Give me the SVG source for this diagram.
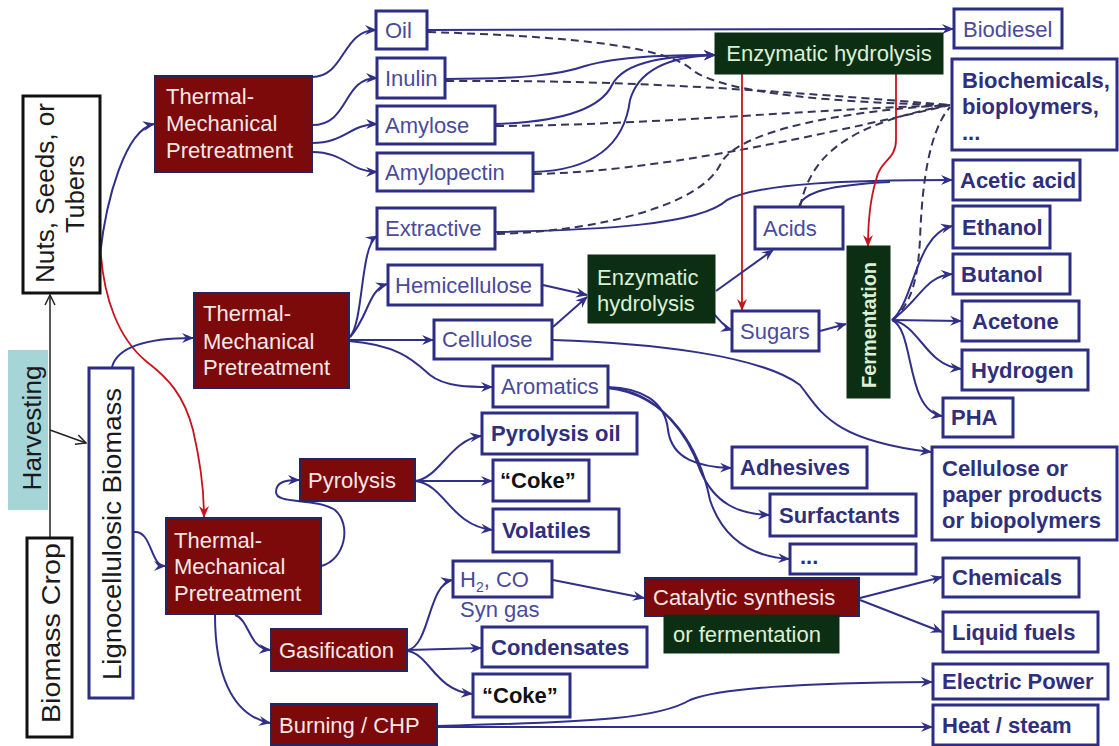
<svg xmlns="http://www.w3.org/2000/svg" width="1119" height="746" viewBox="0 0 1119 746">
  <defs>
    <marker id="ab" viewBox="0 0 12 12" refX="11" refY="6" markerWidth="12" markerHeight="12" markerUnits="userSpaceOnUse" orient="auto">
      <path d="M0,1 L12,6 L0,11 L4,6 z" fill="#30308a"/>
    </marker>
    <marker id="ar" viewBox="0 0 12 12" refX="11" refY="6" markerWidth="12" markerHeight="12" markerUnits="userSpaceOnUse" orient="auto">
      <path d="M0,1 L12,6 L0,11 L4,6 z" fill="#c8141e"/>
    </marker>
    <marker id="ak" viewBox="0 0 12 12" refX="11" refY="6" markerWidth="12" markerHeight="12" markerUnits="userSpaceOnUse" orient="auto">
      <path d="M1,1 L11,6 L1,11" fill="none" stroke="#222" stroke-width="1.5"/>
    </marker>
    <style>
      text { font-family: "Liberation Sans", Arial, sans-serif; }
      .ob { fill: #ffffff; stroke: #2d2d85; stroke-width: 3; }
      .kb { fill: #ffffff; stroke: #111111; stroke-width: 3; }
      .rbx { fill: #7c0a0a; stroke: #26265e; stroke-width: 2; }
      .gbx { fill: #0c2f14; stroke: #0c2f14; stroke-width: 1; }
      .rb { font-size: 22px; fill: #4a4a9c; }
      .bb { font-size: 22px; font-weight: bold; fill: #2f2f7c; }
      .bk { font-size: 22px; font-weight: bold; fill: #111111; }
      .wt { font-size: 22px; fill: #f6e6e6; }
      .gt { font-size: 22px; fill: #dcefd4; }
      .vt { font-size: 25px; fill: #1a1a1a; }
      .c { fill: none; stroke: #30308a; stroke-width: 2; marker-end: url(#ab); }
      .cn { fill: none; stroke: #30308a; stroke-width: 2; }
      .d { fill: none; stroke: #35355c; stroke-width: 2; stroke-dasharray: 8 5; }
      .r { fill: none; stroke: #c8141e; stroke-width: 1.8; marker-end: url(#ar); }
      .k { fill: none; stroke: #222222; stroke-width: 1.5; marker-end: url(#ak); }
    </style>
  </defs>

  <rect width="1119" height="746" fill="#ffffff"/>

  <!-- connectors -->
  <g id="connectors">
    <!-- harvesting -->
    <path class="k" d="M50,538 L50,295"/>
    <path class="k" d="M50,430 L86,443"/>

    <!-- feedstocks to pretreatment -->
    <path class="c" d="M100,255 C106,200 125,130 154,124"/>
    <path class="r" d="M100,240 C102,300 120,340 147,362 C168,378 184,395 193,430 C200,460 204,490 204,517"/>
    <path class="c" d="M112,367 C118,345 150,338 193,338"/>
    <path class="c" d="M134,532 C152,530 150,566 165,566"/>

    <!-- pretreatment 1 fractions -->
    <path class="c" d="M312,77 C345,77 342,30 376,30"/>
    <path class="c" d="M312,125 C350,125 342,78 377,78"/>
    <path class="c" d="M312,143 C345,143 350,124 377,124"/>
    <path class="c" d="M312,152 C345,152 350,172 377,172"/>

    <!-- pretreatment 2 fractions -->
    <path class="c" d="M350,337 C364,320 360,246 377,236"/>
    <path class="c" d="M350,337 C368,318 368,290 387,284"/>
    <path class="c" d="M349,340 L433,340"/>
    <path class="c" d="M349,341 C400,345 415,362 430,375 C445,387 470,387 492,387"/>

    <!-- oil / starch routes -->
    <path class="c" d="M427,30 L953,29"/>
    <path class="d" d="M428,32 C560,36 660,45 690,68 C720,95 850,103 950,105"/>
    <path class="c" d="M445,79 C520,79 560,75 585,66 C620,56 670,55 715,55"/>
    <path class="d" d="M446,81 C600,80 720,86 950,105"/>
    <path class="c" d="M495,124 C560,122 600,110 612,85 C625,60 670,56 715,55"/>
    <path class="d" d="M496,126 C650,125 800,110 950,105"/>
    <path class="c" d="M533,172 C600,170 625,140 630,100 C640,65 680,56 715,55"/>
    <path class="d" d="M534,174 C650,172 800,140 950,105"/>

    <!-- extractive -->
    <path class="c" d="M495,232 C600,230 700,225 727,200 C760,183 850,180 952,180"/>
    <path class="d" d="M497,234 C600,231 700,205 720,165 C735,130 850,110 950,105"/>
    <path class="cn" d="M799,207 C802,192 830,185 890,182"/>
    <path class="d" d="M800,207 C810,160 840,125 950,105"/>
    <path class="d" d="M893,320 C915,300 918,270 920,240 C922,180 930,130 950,107"/>

    <!-- enzymatic hydrolysis (starch) -->
    <path class="r" d="M742,74 L742,310"/>
    <path class="r" d="M896,74 L896,140 C896,160 880,160 876,180 C870,200 868,220 868,246"/>

    <!-- lignocellulose sugars -->
    <path class="c" d="M543,285 L587,295"/>
    <path class="c" d="M553,327 L587,297"/>
    <path class="c" d="M716,291 L773,250"/>
    <path class="c" d="M712,312 C720,320 725,328 732,330"/>
    <path class="c" d="M820,331 L846,324"/>
    <path class="c" d="M553,340 C650,343 760,355 800,385 C820,410 830,440 931,452"/>

    <!-- fermentation products -->
    <path class="c" d="M892,320 C915,300 915,235 952,226"/>
    <path class="c" d="M892,320 C920,300 925,276 952,274"/>
    <path class="c" d="M892,320 L961,321"/>
    <path class="c" d="M892,320 C920,325 925,365 961,369"/>
    <path class="c" d="M892,320 C915,330 905,410 942,416"/>

    <!-- aromatics -->
    <path class="c" d="M608,387 C640,388 665,400 668,430 C672,460 700,467 731,468"/>
    <path class="c" d="M608,388 C660,390 690,440 700,470 C715,505 740,514 769,515"/>
    <path class="c" d="M608,388 C670,395 700,450 710,500 C725,545 760,557 789,559"/>

    <!-- pretreatment 3 routes -->
    <path class="c" d="M321,566 C345,560 352,525 335,510 C315,497 276,505 276,492 C276,482 285,480 299,480"/>
    <path class="c" d="M415,481 C440,478 450,440 481,436"/>
    <path class="c" d="M415,481 L492,481"/>
    <path class="c" d="M415,481 C445,484 450,525 492,530"/>
    <path class="c" d="M235,615 C250,620 248,648 270,650"/>
    <path class="c" d="M215,615 C215,670 230,715 270,723"/>

    <!-- gasification -->
    <path class="c" d="M408,650 C430,645 428,585 452,580"/>
    <path class="c" d="M408,650 L481,648"/>
    <path class="c" d="M408,651 C430,655 435,690 472,694"/>
    <path class="c" d="M553,580 L644,598"/>
    <path class="c" d="M860,598 L942,577"/>
    <path class="c" d="M860,600 L942,632"/>

    <!-- burning / CHP -->
    <path class="c" d="M437,726 C600,722 660,718 690,700 C720,688 800,683 932,682"/>
    <path class="c" d="M437,727 L932,727"/>
  </g>

  <!-- left column -->
  <g id="nuts">
    <rect class="kb" x="23" y="96" width="77" height="197"/>
    <text class="vt" transform="translate(54,193) rotate(-90)" text-anchor="middle" textLength="180" lengthAdjust="spacingAndGlyphs">Nuts, Seeds, or</text>
    <text class="vt" transform="translate(84,194) rotate(-90)" text-anchor="middle" textLength="78" lengthAdjust="spacingAndGlyphs">Tubers</text>
  </g>
  <g id="harvesting">
    <rect x="8" y="350" width="40" height="160" fill="#a6d5d8"/>
    <text class="vt" transform="translate(41,428) rotate(-90)" text-anchor="middle" textLength="125" lengthAdjust="spacingAndGlyphs" fill="#2a2a2a">Harvesting</text>
  </g>
  <g id="biomass-crop">
    <rect class="kb" x="27" y="538" width="45" height="199"/>
    <text class="vt" transform="translate(60,633) rotate(-90)" text-anchor="middle" textLength="180" lengthAdjust="spacingAndGlyphs">Biomass Crop</text>
  </g>
  <g id="lignocellulosic">
    <rect class="ob" x="89" y="368" width="44" height="330"/>
    <text class="vt" transform="translate(121,534) rotate(-90)" text-anchor="middle" textLength="292" lengthAdjust="spacingAndGlyphs">Lignocellulosic Biomass</text>
  </g>

  <!-- pretreatment -->
  <g id="pretreat-1">
    <rect class="rbx" x="155" y="76" width="157" height="96"/>
    <text class="wt" x="166" y="104">Thermal-</text>
    <text class="wt" x="166" y="131">Mechanical</text>
    <text class="wt" x="166" y="158">Pretreatment</text>
  </g>
  <g id="pretreat-2">
    <rect class="rbx" x="194" y="293" width="155" height="95"/>
    <text class="wt" x="203" y="321">Thermal-</text>
    <text class="wt" x="203" y="349">Mechanical</text>
    <text class="wt" x="203" y="375">Pretreatment</text>
  </g>
  <g id="pretreat-3">
    <rect class="rbx" x="166" y="518" width="155" height="96"/>
    <text class="wt" x="174" y="548">Thermal-</text>
    <text class="wt" x="174" y="574">Mechanical</text>
    <text class="wt" x="174" y="601">Pretreatment</text>
  </g>

  <!-- fractions -->
  <g id="oil"><rect class="ob" x="376" y="11" width="51" height="38"/><text class="rb" x="385" y="38">Oil</text></g>
  <g id="inulin"><rect class="ob" x="377" y="58" width="68" height="40"/><text class="rb" x="385" y="86">Inulin</text></g>
  <g id="amylose"><rect class="ob" x="377" y="106" width="118" height="38"/><text class="rb" x="385" y="133">Amylose</text></g>
  <g id="amylopectin"><rect class="ob" x="377" y="153" width="156" height="38"/><text class="rb" x="385" y="180">Amylopectin</text></g>
  <g id="extractive"><rect class="ob" x="377" y="208" width="118" height="41"/><text class="rb" x="385" y="236">Extractive</text></g>
  <g id="hemicellulose"><rect class="ob" x="388" y="265" width="154" height="40"/><text class="rb" x="395" y="293">Hemicellulose</text></g>
  <g id="cellulose"><rect class="ob" x="434" y="320" width="118" height="39"/><text class="rb" x="442" y="347">Cellulose</text></g>
  <g id="aromatics"><rect class="ob" x="493" y="366" width="115" height="41"/><text class="rb" x="501" y="394">Aromatics</text></g>

  <!-- biochemical conversion -->
  <g id="enzymatic-top"><rect class="gbx" x="715" y="33" width="228" height="41"/><text class="gt" x="829" y="61" text-anchor="middle">Enzymatic hydrolysis</text></g>
  <g id="enzymatic-mid">
    <rect class="gbx" x="588" y="255" width="127" height="68"/>
    <text class="gt" x="597" y="285">Enzymatic</text>
    <text class="gt" x="597" y="311">hydrolysis</text>
  </g>
  <g id="acids"><rect class="ob" x="755" y="207" width="88" height="42"/><text class="rb" x="763" y="236">Acids</text></g>
  <g id="sugars"><rect class="ob" x="732" y="311" width="87" height="40"/><text class="rb" x="740" y="339">Sugars</text></g>
  <g id="fermentation">
    <rect class="gbx" x="847" y="246" width="43" height="152"/>
    <text transform="translate(876,325) rotate(-90)" text-anchor="middle" textLength="126" lengthAdjust="spacingAndGlyphs" font-size="21" font-weight="bold" fill="#dcefd4">Fermentation</text>
  </g>

  <!-- products -->
  <g id="biodiesel"><rect class="ob" x="954" y="9" width="108" height="39"/><text class="rb" x="963" y="37">Biodiesel</text></g>
  <g id="biochemicals">
    <rect class="ob" x="952" y="59" width="165" height="91"/>
    <text class="bb" x="962" y="88">Biochemicals,</text>
    <text class="bb" x="962" y="114">bioploymers,</text>
    <text class="bb" x="962" y="140">...</text>
  </g>
  <g id="acetic-acid"><rect class="ob" x="953" y="160" width="127" height="40"/><text class="bb" x="960" y="188">Acetic acid</text></g>
  <g id="ethanol"><rect class="ob" x="953" y="206" width="97" height="42"/><text class="bb" x="962" y="235">Ethanol</text></g>
  <g id="butanol"><rect class="ob" x="953" y="254" width="117" height="40"/><text class="bb" x="961" y="282">Butanol</text></g>
  <g id="acetone"><rect class="ob" x="962" y="301" width="117" height="40"/><text class="bb" x="972" y="329">Acetone</text></g>
  <g id="hydrogen"><rect class="ob" x="962" y="350" width="126" height="40"/><text class="bb" x="971" y="378">Hydrogen</text></g>
  <g id="pha"><rect class="ob" x="943" y="398" width="70" height="39"/><text class="bb" x="951" y="425">PHA</text></g>
  <g id="cellulose-products">
    <rect class="ob" x="932" y="447" width="185" height="93"/>
    <text class="bb" x="942" y="476">Cellulose or</text>
    <text class="bb" x="942" y="502">paper products</text>
    <text class="bb" x="942" y="528">or biopolymers</text>
  </g>
  <g id="adhesives"><rect class="ob" x="732" y="447" width="135" height="41"/><text class="bb" x="740" y="475">Adhesives</text></g>
  <g id="surfactants"><rect class="ob" x="770" y="494" width="146" height="42"/><text class="bb" x="779" y="523">Surfactants</text></g>
  <g id="more"><rect class="ob" x="790" y="544" width="126" height="30"/><text class="bb" x="800" y="564" font-size="16">...</text></g>

  <!-- thermochemical conversion -->
  <g id="pyrolysis"><rect class="rbx" x="300" y="459" width="115" height="42"/><text class="wt" x="308" y="488">Pyrolysis</text></g>
  <g id="pyrolysis-oil"><rect class="ob" x="482" y="413" width="155" height="41"/><text class="bb" x="491" y="441">Pyrolysis oil</text></g>
  <g id="coke-1"><rect class="ob" x="493" y="460" width="96" height="41"/><text class="bk" x="500" y="488">“Coke”</text></g>
  <g id="volatiles"><rect class="ob" x="493" y="509" width="126" height="43"/><text class="bb" x="502" y="538">Volatiles</text></g>
  <g id="gasification"><rect class="rbx" x="271" y="629" width="136" height="42"/><text class="wt" x="279" y="658">Gasification</text></g>
  <g id="syngas">
    <rect class="ob" x="453" y="561" width="99" height="36"/>
    <text class="rb" x="460" y="587">H<tspan dy="5" font-size="14">2</tspan><tspan dy="-5">, CO</tspan></text>
    <text class="rb" x="460" y="617">Syn gas</text>
  </g>
  <g id="condensates"><rect class="ob" x="482" y="627" width="165" height="40"/><text class="bb" x="491" y="655">Condensates</text></g>
  <g id="coke-2"><rect class="ob" x="473" y="674" width="97" height="43"/><text class="bk" x="482" y="703">“Coke”</text></g>
  <g id="catalytic">
    <rect class="rbx" x="645" y="578" width="214" height="38"/>
    <rect class="gbx" x="664" y="615" width="175" height="38"/>
    <text class="wt" x="653" y="605">Catalytic synthesis</text>
    <text class="gt" x="673" y="642">or  fermentation</text>
  </g>
  <g id="chemicals"><rect class="ob" x="943" y="558" width="136" height="39"/><text class="bb" x="952" y="585">Chemicals</text></g>
  <g id="liquid-fuels"><rect class="ob" x="943" y="612" width="155" height="40"/><text class="bb" x="952" y="640">Liquid fuels</text></g>
  <g id="burning"><rect class="rbx" x="271" y="704" width="166" height="41"/><text class="wt" x="279" y="733">Burning / CHP</text></g>
  <g id="electric-power"><rect class="ob" x="933" y="664" width="175" height="35"/><text class="bb" x="942" y="689">Electric Power</text></g>
  <g id="heat-steam"><rect class="ob" x="933" y="705" width="165" height="40"/><text class="bb" x="942" y="733">Heat / steam</text></g>
</svg>
